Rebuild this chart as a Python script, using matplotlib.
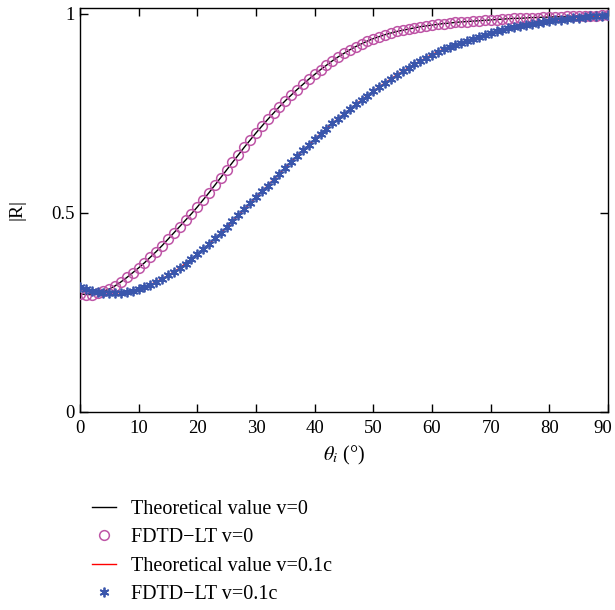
import matplotlib.pyplot as plt
import matplotlib.transforms as mtransforms
from matplotlib.lines import Line2D

plt.rcParams['font.family'] = ['Liberation Serif', 'DejaVu Serif']
plt.rcParams['mathtext.fontset'] = 'stix'

# incidence angle (deg), one sample per degree
theta = list(range(0, 91))

# |R| for v=0 (theory and FDTD-LT coincide)
r_v0 = [0.297, 0.295, 0.295, 0.298, 0.303, 0.309, 0.317, 0.327, 0.338, 0.350,
        0.362, 0.375, 0.389, 0.403, 0.418, 0.434, 0.450, 0.466, 0.482, 0.498,
        0.515, 0.533, 0.551, 0.570, 0.589, 0.608, 0.627, 0.646, 0.665, 0.683,
        0.701, 0.718, 0.735, 0.751, 0.767, 0.782, 0.796, 0.810, 0.823, 0.836,
        0.848, 0.860, 0.871, 0.882, 0.892, 0.901, 0.910, 0.918, 0.925, 0.932,
        0.938, 0.943, 0.948, 0.952, 0.956, 0.959, 0.962, 0.965, 0.968, 0.970,
        0.972, 0.974, 0.976, 0.977, 0.979, 0.980, 0.981, 0.982, 0.983, 0.984,
        0.985, 0.986, 0.987, 0.988, 0.989, 0.989, 0.990, 0.991, 0.991, 0.992,
        0.992, 0.993, 0.993, 0.994, 0.994, 0.995, 0.995, 0.996, 0.996, 0.997,
        0.997]

# |R| for v=0.1c
r_v01 = [0.314, 0.309, 0.305, 0.302, 0.300, 0.299, 0.299, 0.300, 0.302, 0.305,
         0.309, 0.314, 0.320, 0.327, 0.335, 0.343, 0.352, 0.362, 0.373, 0.384,
         0.396, 0.409, 0.422, 0.436, 0.450, 0.464, 0.479, 0.494, 0.509, 0.524,
         0.539, 0.554, 0.569, 0.584, 0.599, 0.614, 0.629, 0.643, 0.657, 0.671,
         0.685, 0.699, 0.712, 0.725, 0.737, 0.749, 0.761, 0.773, 0.784, 0.795,
         0.806, 0.817, 0.827, 0.837, 0.847, 0.856, 0.865, 0.874, 0.882, 0.890,
         0.898, 0.905, 0.912, 0.918, 0.922, 0.928, 0.933, 0.938, 0.943, 0.948,
         0.952, 0.956, 0.960, 0.964, 0.967, 0.970, 0.973, 0.976, 0.978, 0.980,
         0.982, 0.984, 0.986, 0.988, 0.990, 0.991, 0.993, 0.994, 0.995, 0.996,
         0.997]

labels = ['Theoretical value v=0', 'FDTD\u2212LT v=0',
          'Theoretical value v=0.1c', 'FDTD\u2212LT v=0.1c']

pink = '#BE55A6'
blue = '#3A56AC'
star = (6, 2, 0)

fig = plt.figure(figsize=(6.15, 6.10), dpi=100)
ax = fig.add_axes([0.130, 0.3246, 0.8586, 0.6623])

ax.plot(theta, r_v0, color='black', lw=1, zorder=2)
ax.plot(theta, r_v0, 'o', mfc='none', mec=pink, ms=7, mew=1.1, zorder=3)
ax.plot(theta, r_v01, color='red', lw=1, zorder=2)
ax.plot(theta, r_v01, ls='none', marker=star, color=blue, mec=blue, ms=7, mew=1.3, zorder=4)

ax.set_xlim(0, 90)
ax.set_ylim(0, 1.015)
ax.set_xticks(range(0, 91, 10))
ax.set_yticks([0, 0.5, 1])
ax.set_yticklabels(['0', '0.5', '1'])
ax.tick_params(direction='in', top=True, right=True, labelsize=13.5, length=6, width=1)
ax.tick_params(axis='x', pad=6)
for s in ax.spines.values():
    s.set_linewidth(1)
ax.set_xlabel(r'$\theta_i$ (°)', fontsize=14.5, labelpad=5)
ax.set_ylabel('|R|', fontsize=14, labelpad=19)

# nudge the last x label so it stays inside the figure
last = ax.get_xticklabels()[-1]
last.set_transform(last.get_transform() + mtransforms.ScaledTranslation(-5 / 100, 0, fig.dpi_scale_trans))

handles = [Line2D([], [], color='black', lw=1),
           Line2D([], [], ls='none', marker='o', mfc='none', mec=pink, ms=7, mew=1.1),
           Line2D([], [], color='red', lw=1),
           Line2D([], [], ls='none', marker=star, color=blue, ms=7, mew=1.3)]
fig.legend(handles, labels, loc='upper left', bbox_to_anchor=(0.150, 0.181),
           frameon=False, fontsize=14.5, handlelength=1.2, handletextpad=0.7,
           labelspacing=0.47, borderaxespad=0, borderpad=0)

fig.savefig('out.png', dpi=100)
